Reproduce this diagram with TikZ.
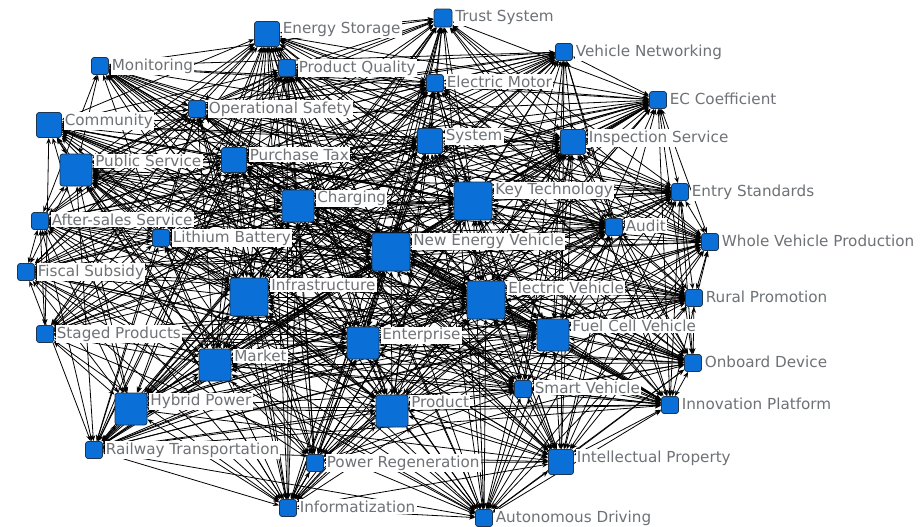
\documentclass[tikz,border=0pt]{standalone}
\usepackage{fontspec}
\setmainfont{DejaVu Sans}
\usetikzlibrary{arrows.meta, positioning}
\definecolor{nodeblue}{HTML}{0A6FD6}
\definecolor{nodeedge}{HTML}{1C3550}
\definecolor{lblgray}{HTML}{6E7276}
\pgfdeclarelayer{edges}
\pgfsetlayers{edges,main}

% name/x/y/size(pt)/label   (x,y in pixels of the 920x526 canvas)
\def\nodelist{
  es/267/34/18.75/Energy Storage,
  ts/443/18/13.5/Trust System,
  vn/564/52/12.75/Vehicle Networking,
  mon/100/66/12.75/Monitoring,
  pq/287/68/12.75/Product Quality,
  em/435/83/12.75/Electric Motor,
  ecc/658/100/12.75/EC Coefficient,
  os/197/109/12.75/Operational Safety,
  com/49/125/18.75/Community,
  sys/430/141/18.75/System,
  ins/573/142/18.75/Inspection Service,
  ps/76/170/24/Public Service,
  ptax/234/160/18.75/Purchase Tax,
  chg/298/206/24/Charging,
  kt/473/201/28.5/Key Technology,
  est/680/192/12.75/Entry Standards,
  ass/40/221/12.75/After-sales Service,
  lb/161/238/12.75/Lithium Battery,
  nev/391/252/28.5/New Energy Vehicle,
  aud/614/227/12.75/Audit,
  wvp/710/242/12.75/Whole Vehicle Production,
  fs/26/272/12.75/Fiscal Subsidy,
  inf/249/297/28.5/Infrastructure,
  ev/486/300/28.5/Electric Vehicle,
  rp/694/298/12.75/Rural Promotion,
  sp/45/334/12.75/Staged Products,
  ent/363/343/24/Enterprise,
  fcv/553/335/24/Fuel Cell Vehicle,
  mkt/215/365/24/Market,
  od/693/363/12.75/Onboard Device,
  sv/523/389/12.75/Smart Vehicle,
  hp/131/409/24/Hybrid Power,
  prd/392/411/24/Product,
  ip/670/405/12.75/Innovation Platform,
  rt/94/450/12.75/Railway Transportation,
  pr/315/463/12.75/Power Regeneration,
  ipr/561/462/18.75/Intellectual Property,
  infz/288/508/12.75/Informatization,
  ad/484/518/12.75/Autonomous Driving}

\begin{document}
\begin{tikzpicture}[x=0.75pt, y=-0.75pt,
  sq/.style={draw=nodeedge, fill=nodeblue, line width=0.6pt,
    rounded corners=2pt, inner sep=0pt},
  lbl/.style={fill=white, text=lblgray, inner sep=1pt, anchor=north west,
    font=\fontsize{11.4}{13}\selectfont},
  link/.style={{Stealth[length=4.5pt, width=3.5pt]}-{Stealth[length=4.5pt, width=3.5pt]},
    line width=0.6pt, black}]

\useasboundingbox (0,0) rectangle (920,526);

% --- Squares and labels ---
\foreach \nm/\x/\y/\sz/\txt in \nodelist {
  \node[sq, minimum size=\sz pt] (\nm) at (\x,\y) {};
  \node[lbl] (\nm-l) at ([xshift=1pt, yshift=0pt]\nm.north east) {\txt};
}

% --- Links (weighted by square size) ---
\begin{pgfonlayer}{edges}
\foreach \a/\xa/\ya/\sa/\ta [count=\i] in \nodelist {
  \foreach \b/\xb/\yb/\sb/\tb [count=\j] in \nodelist {
    \ifnum\j>\i
      \pgfmathtruncatemacro\hash{mod(mod(\i*\i,100)*7+mod(\j*\j,100)*11+mod(\i*\j,100)*23+\i*3+\j*5,100)}
      \pgfmathtruncatemacro\lim{100*(0.62+\sa/60)*(0.62+\sb/60)}
      \ifnum\hash<\lim
        \draw[link] (\a) -- (\b);
      \fi
    \fi
  }
}
\end{pgfonlayer}

\end{tikzpicture}
\end{document}
